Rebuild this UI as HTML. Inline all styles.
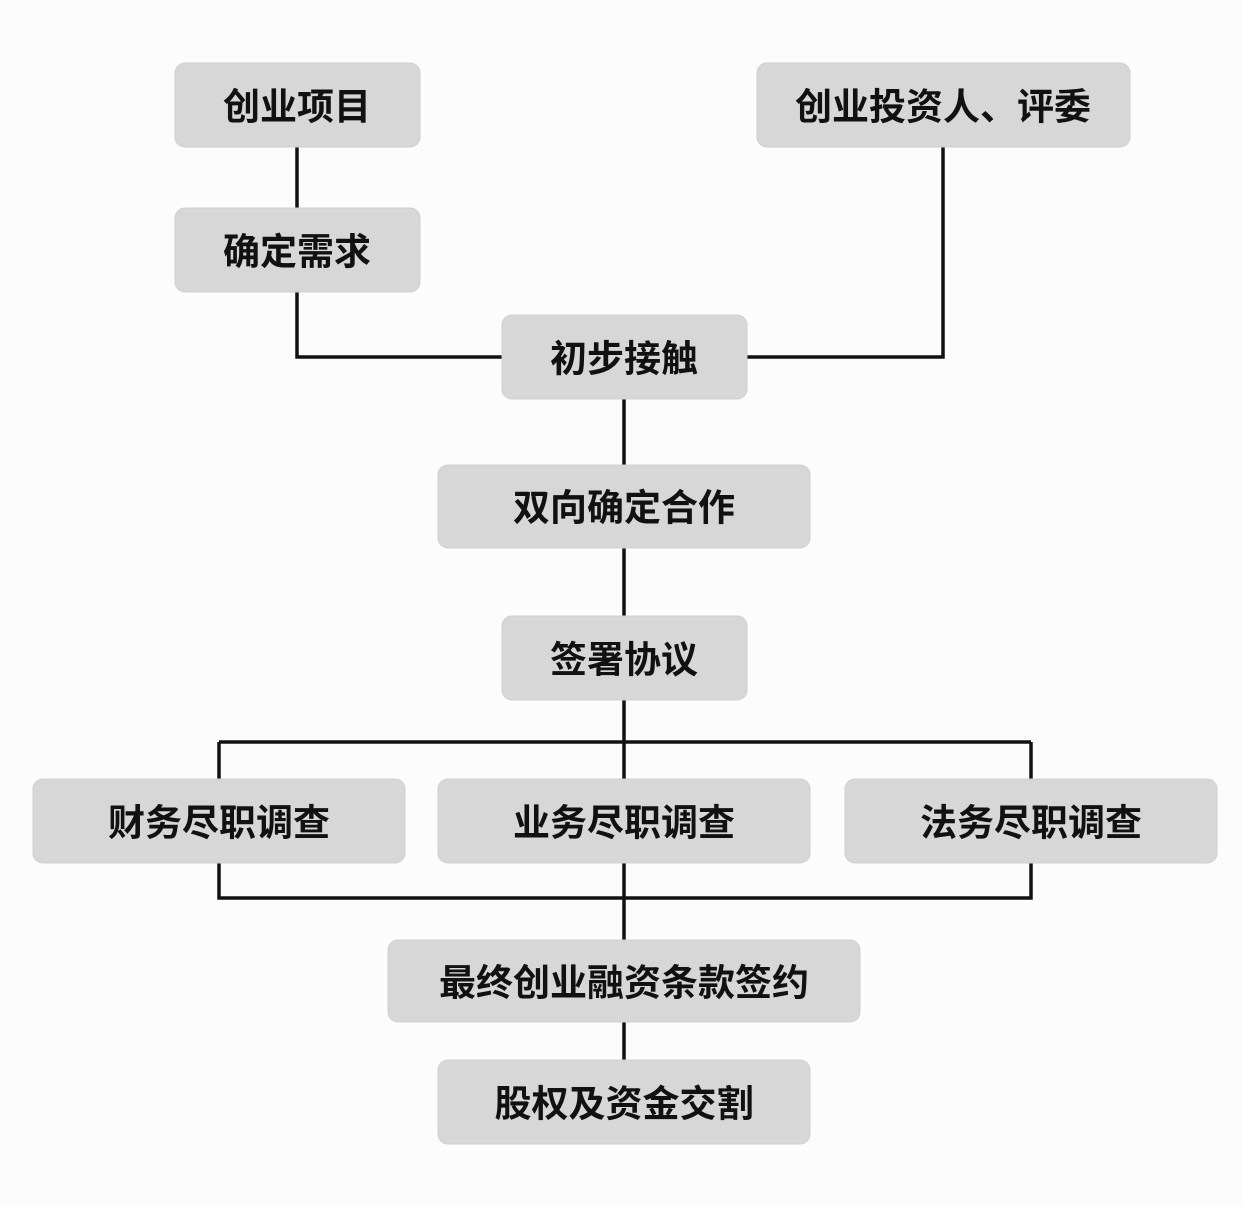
<!DOCTYPE html>
<html><head><meta charset="utf-8"><style>
html,body{margin:0;padding:0;background:#fcfcfc;}
svg{display:block}
text{font-family:"Liberation Sans","Noto Sans CJK SC",sans-serif;font-weight:bold;font-size:37px;fill:#111;text-anchor:middle;dominant-baseline:central}
rect{fill:#d7d7d7;stroke:#cfcfcf;stroke-width:1}
</style></head><body>
<svg width="1242" height="1206" viewBox="0 0 1242 1206">
<g stroke="#111" stroke-width="3.5" fill="none">
<path d="M297 147V208M297 292V357H502M943 147V357H747M624 399V465M624 548V616M624 700V779M219 742H1031M219 742V779M1031 742V779M219 863V898H1031V863M624 863V940M624 1022V1060"/>
</g>
<rect x="175" y="63" width="245" height="84" rx="10"/>
<rect x="175" y="208" width="245" height="84" rx="10"/>
<rect x="757" y="63" width="373" height="84" rx="10"/>
<rect x="502" y="315" width="245" height="84" rx="10"/>
<rect x="438" y="465" width="372" height="83" rx="10"/>
<rect x="502" y="616" width="245" height="84" rx="10"/>
<rect x="33" y="779" width="372" height="84" rx="10"/>
<rect x="438" y="779" width="372" height="84" rx="10"/>
<rect x="845" y="779" width="372" height="84" rx="10"/>
<rect x="388" y="940" width="472" height="82" rx="10"/>
<rect x="438" y="1060" width="372" height="84" rx="10"/>
<text x="297" y="107">创业项目</text>
<text x="297" y="252">确定需求</text>
<text x="943" y="107">创业投资人、评委</text>
<text x="624" y="359">初步接触</text>
<text x="624" y="508">双向确定合作</text>
<text x="624" y="660">签署协议</text>
<text x="219" y="823">财务尽职调查</text>
<text x="624" y="823">业务尽职调查</text>
<text x="1031" y="823">法务尽职调查</text>
<text x="624" y="983">最终创业融资条款签约</text>
<text x="624" y="1104">股权及资金交割</text>
</svg>
</body></html>
